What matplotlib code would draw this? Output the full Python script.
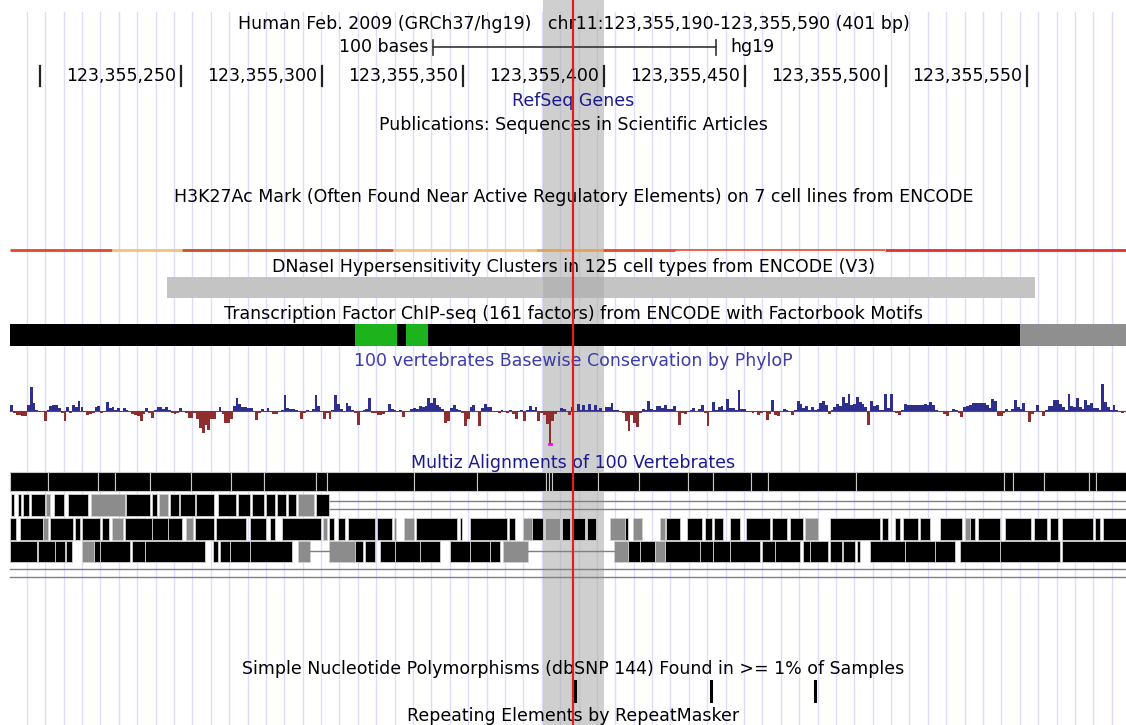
import numpy as np
import matplotlib.pyplot as plt
from matplotlib.patches import Rectangle

plt.rcParams['font.family'] = ['DejaVu Sans']

# positions are offsets from chr11:123,355,000
win_start, win_end = 190, 590
ruler_ticks = [200, 250, 300, 350, 400, 450, 500, 550]
highlight = (379.0, 400.5)
cursor_pos = 389.6

# H3K27Ac overlay line: segments and colours
h3k_start = [190, 226.2, 251, 325.8, 376.5, 400.3, 425.8, 500.3]
h3k_end = [226.2, 251, 325.8, 376.5, 400.3, 425.8, 500.3, 590]
h3k_color = ['#e8452c', '#f2c27a', '#d04a2a', '#f2c27a', '#e8a050', '#e8452c', '#e8452c', '#e03030']
h3k_width = [2.0, 2.0, 2.0, 2.0, 2.0, 2.0, 1.2, 2.0]

# DNaseI cluster
dnase = (245.7, 553.5)

# TF ChIP-seq cluster + factorbook motifs
tf_black = (190, 548.2)
tf_gray = (548.2, 590)
tf_motifs = [(312.3, 327.4), (330.4, 338.4)]

# PhyloP per base, starting at 190
phylop = [
    6, -2, -4, -4, -5, -5, 6, 24, 8, 1, -1, -1, -10, 1, 5, 6, 6, 3, -2, -10,
    4, -2, 6, 4, 10, 4, -1, -4, -3, -2, 4, 5, -2, -1, 9, 3, 4, 1, 3, -1,
    3, 1, -1, -3, -4, -5, -10, -3, 3, -2, -7, 1, 4, 4, 2, 4, 1, -2, -3, -2,
    3, -1, -2, -7, -7, -2, -8, -17, -22, -14, -19, -8, -8, -1, 4, -3, -12, -12, -8, 5,
    13, 7, 4, 4, 3, 3, -1, -9, -2, 2, -1, 3, -1, -3, -3, -1, 1, 16, 3, 2,
    2, 1, -1, -8, -2, 1, -1, 2, 16, 5, -1, -8, -2, -8, 1, 16, 7, 2, -1, 8,
    5, 1, -2, -14, -1, 1, 2, 13, -2, -2, -4, -4, -3, -1, 7, 2, 1, -1, 1, -6,
    -1, -1, 2, 3, 2, 5, 4, 5, 13, 8, 13, 6, 4, 2, -12, -10, 3, 6, 2, 1,
    -2, -15, -8, 4, 6, -1, -15, 3, 7, 4, 4, -1, -1, -2, 1, -1, -2, 1, -3, -8,
    -1, 1, -10, 1, 5, 1, 4, -10, -2, -4, -13, -36, -10, -3, -1, 3, 2, -1, -4, 4,
    -1, 7, 1, 6, 1, 7, 1, 6, 1, 3, -1, 4, 4, 8, 1, 1, -1, -2, -10, -20,
    -4, -12, -16, -2, 2, 1, 10, 2, 1, 5, 5, 3, 6, 2, 2, 5, -1, -14, -2, -3,
    -1, 1, 3, -1, 2, 6, -2, -15, -1, 9, 1, 4, 5, 1, 12, 3, 3, 1, 21, 2,
    2, -1, -1, -2, -1, -4, -2, -1, -9, -3, 11, -4, -5, -1, 2, 1, -1, -4, 1, 10,
    7, 3, 5, 1, 4, 1, 2, 8, 10, 6, -3, 1, 4, 7, 5, 14, 8, 17, 6, 7,
    14, 9, 7, 4, -14, 10, 5, 6, 1, 1, 17, 3, 17, -1, -2, -4, 1, 7, 6, 6,
    6, 6, 6, 6, 7, 6, 9, 6, 1, 0, -1, -3, -5, -1, 2, 1, -2, -6, 4, 5,
    6, 8, 8, 8, 8, 8, 6, 3, 12, 10, -5, -5, -2, 2, -1, 2, 11, 4, 2, 8,
    -1, -11, -3, -1, 6, -1, -5, 1, 5, 5, 11, 11, 7, 4, 1, 17, 5, 4, 13, 4,
    2, 11, 6, 8, 3, 3, 1, 27, 9, 4, 1, 6, 1, -1, -2, -1,
]
phylop_clip = -33

# Multiz: summary row block breaks
multiz_breaks = [190, 203.5, 221.2, 227.2, 239.6, 254.2, 268.4, 280.1, 298.5, 302.4,
                 333.3, 355.6, 380.1, 381.1, 382.2, 398.5, 413.0, 430.4, 439.3, 452.8,
                 458.8, 490.0, 542.5, 545.7, 556.7, 572.6, 575.1, 590]

# species rows: (start, end, shade)  k=black g=gray
row2 = [(190.4, 191.4, 'k'), (192.8, 193.9, 'k'), (194.6, 196.7, 'k'), (197.4, 202.4, 'k'),
        (202.8, 204.2, 'g'), (205.6, 209.1, 'k'), (210.6, 217.7, 'k'), (218.7, 230.8, 'g'),
        (231.1, 239.6, 'k'), (240.4, 242.1, 'k'), (242.8, 246.0, 'g'), (246.7, 249.9, 'k'),
        (250.3, 255.6, 'k'), (256.0, 262.3, 'k'), (263.8, 270.1, 'k'), (270.9, 275.1, 'k'),
        (275.8, 280.1, 'k'), (280.8, 284.0, 'k'), (284.7, 287.9, 'k'), (288.6, 291.4, 'k'),
        (292.1, 297.8, 'g'), (298.5, 303.1, 'k')]
row2_gap = (303.5, 590)

row3 = [(190.0, 192.1, 'k'), (193.5, 201.7, 'k'), (201.7, 203.5, 'g'), (204.2, 212.3, 'k'),
        (213.0, 214.8, 'k'), (215.5, 221.9, 'k'), (222.6, 225.1, 'k'), (226.2, 230.1, 'g'),
        (230.8, 240.4, 'k'), (240.4, 246.0, 'k'), (246.0, 251.0, 'k'), (252.4, 254.9, 'g'),
        (255.6, 262.3, 'k'), (263.0, 273.7, 'k'), (275.1, 280.8, 'k'), (282.2, 284.0, 'k'),
        (286.5, 300.3, 'k'), (301.0, 302.4, 'g'), (303.1, 304.9, 'k'), (306.3, 308.8, 'k'),
        (309.9, 319.4, 'k'), (320.1, 325.5, 'k'), (326.2, 326.9, 'g'), (329.7, 333.3, 'g'),
        (334.0, 348.5, 'k'), (349.6, 350.3, 'k'), (353.1, 366.2, 'k'), (366.9, 369.1, 'k'),
        (371.9, 375.1, 'g'), (375.1, 379.0, 'k'), (379.7, 385.0, 'g'), (385.7, 388.6, 'k'),
        (389.3, 393.9, 'k'), (394.6, 397.8, 'k'), (402.8, 408.1, 'g'), (408.1, 409.1, 'k'),
        (410.9, 414.1, 'g'), (420.5, 422.3, 'g'), (422.6, 427.6, 'k'), (430.1, 435.4, 'k'),
        (436.5, 439.0, 'k'), (439.7, 442.8, 'k'), (445.3, 448.9, 'k'), (451.0, 459.5, 'k'),
        (460.2, 465.5, 'k'), (466.6, 471.2, 'k'), (471.9, 476.5, 'g'), (480.8, 498.5, 'k'),
        (499.2, 501.3, 'k'), (503.8, 505.6, 'k'), (506.7, 512.0, 'k'), (512.7, 516.2, 'k'),
        (519.8, 527.6, 'k'), (528.6, 530.4, 'g'), (530.4, 532.2, 'k'), (533.3, 541.0, 'k'),
        (542.8, 552.0, 'k'), (553.1, 557.7, 'k'), (558.8, 561.6, 'k'), (563.0, 574.0, 'k'),
        (574.7, 576.5, 'k'), (577.6, 590, 'k')]

row4 = [(190.0, 199.6, 'k'), (199.9, 206.0, 'k'), (206.0, 209.5, 'k'), (209.9, 212.0, 'k'),
        (215.5, 219.8, 'g'), (219.8, 221.9, 'k'), (221.9, 232.6, 'k'), (233.3, 237.9, 'k'),
        (237.9, 259.1, 'k'), (262.0, 263.8, 'k'), (264.5, 268.0, 'k'), (268.0, 275.1, 'k'),
        (275.1, 290.0, 'k'), (292.1, 296.4, 'g'), (303.1, 312.3, 'g'), (312.3, 315.2, 'k'),
        (315.9, 319.4, 'k'), (321.2, 326.5, 'k'), (326.5, 335.4, 'k'), (335.4, 342.5, 'k'),
        (346.0, 353.1, 'k'), (353.1, 360.2, 'k'), (360.2, 363.8, 'k'), (364.8, 373.7, 'g'),
        (404.2, 409.1, 'g'), (409.1, 413.4, 'k'), (413.4, 418.7, 'k'), (418.7, 422.3, 'g'),
        (422.3, 434.7, 'k'), (434.7, 439.3, 'k'), (439.3, 445.3, 'k'), (445.3, 455.9, 'k'),
        (456.7, 461.3, 'k'), (461.3, 470.1, 'k'), (471.2, 473.7, 'k'), (473.7, 480.1, 'k'),
        (480.8, 485.0, 'k'), (485.4, 489.6, 'k'), (490.3, 491.4, 'k'), (494.9, 507.4, 'k'),
        (507.4, 518.0, 'k'), (518.0, 525.1, 'k'), (526.9, 541.0, 'k'), (541.0, 562.3, 'k'),
        (563.0, 590, 'k')]
row4_gaps = [(296.4, 303.1), (373.7, 404.2)]

# dbSNP 144 common SNPs
snps = [390.5, 438.5, 475.5]

shade_color = {'k': '#000000', 'g': '#8c8c8c'}

fig = plt.figure(figsize=(11.26, 7.25), dpi=100)
ax = fig.add_axes([0, 0, 1, 1])
ax.set_xlim(190 - 10 / 2.82, 190 + 1116 / 2.82)
ax.set_ylim(725, 0)
ax.axis('off')

label_x = 389.8
fs = 12.5
navy = '#1a1a8c'

# light guide lines
for gx in np.arange(196.0, 590, 6.52):
    ax.plot([gx, gx], [12, 725], color='#dcdcff', lw=1.0, zorder=1)

# highlight + cursor
ax.axvspan(highlight[0], highlight[1], color='#a9a9a9', alpha=0.55, lw=0, zorder=2)
ax.axvline(cursor_pos, color='#e02020', lw=1.6, zorder=7)

# header
ax.text(label_x, 24, 'Human Feb. 2009 (GRCh37/hg19)   chr11:123,355,190-123,355,590 (401 bp)',
        ha='center', va='center', fontsize=fs, zorder=6)
ax.plot([340, 440.4], [47, 47], color='#333333', lw=1.2, zorder=6)
for bx in (340, 440.4):
    ax.plot([bx, bx], [40, 55], color='#333333', lw=1.2, zorder=6)
ax.text(338.3, 47, '100 bases', ha='right', va='center', fontsize=fs, zorder=6)
ax.text(445.3, 47, 'hg19', ha='left', va='center', fontsize=fs, zorder=6)

for t in ruler_ticks:
    ax.plot([t + 0.5, t + 0.5], [66, 86], color='#222222', lw=1.6, zorder=6)
    if t != 200:
        ax.text(t - 1.0, 76, f'123,355,{t}', ha='right', va='center', fontsize=fs, zorder=6)

ax.text(label_x, 101, 'RefSeq Genes', ha='center', va='center', fontsize=fs, color=navy, zorder=6)
ax.text(label_x, 125, 'Publications: Sequences in Scientific Articles',
        ha='center', va='center', fontsize=fs, zorder=6)
ax.text(label_x, 197, 'H3K27Ac Mark (Often Found Near Active Regulatory Elements) on 7 cell lines from ENCODE',
        ha='center', va='center', fontsize=fs, zorder=6)

for s, e, c, w in zip(h3k_start, h3k_end, h3k_color, h3k_width):
    ax.plot([s, e], [250, 250], color=c, lw=w, solid_capstyle='butt', zorder=3)

ax.text(label_x, 267, 'DNaseI Hypersensitivity Clusters in 125 cell types from ENCODE (V3)',
        ha='center', va='center', fontsize=fs, zorder=6)
ax.add_patch(Rectangle((dnase[0], 277), dnase[1] - dnase[0], 21, color='#c4c4c4', lw=0, zorder=1.5))

ax.text(label_x, 314, 'Transcription Factor ChIP-seq (161 factors) from ENCODE with Factorbook Motifs',
        ha='center', va='center', fontsize=fs, zorder=6)
ax.add_patch(Rectangle((tf_black[0], 324), tf_black[1] - tf_black[0], 22, color='black', lw=0, zorder=3))
ax.add_patch(Rectangle((tf_gray[0], 324), tf_gray[1] - tf_gray[0], 22, color='#8f8f8f', lw=0, zorder=3))
for s, e in tf_motifs:
    ax.add_patch(Rectangle((s, 324), e - s, 22, color='#1db31d', lw=0, zorder=3.5))

ax.text(label_x, 361, '100 vertebrates Basewise Conservation by PhyloP',
        ha='center', va='center', fontsize=fs, color='#3c3ca8', zorder=6)
base0 = 411
pos = np.arange(win_start, win_start + len(phylop))
vals = np.array(phylop, dtype=float)
ax.plot([win_start, win_end], [base0, base0], color='#8b3a3a', lw=0.8, zorder=3)
up = vals > 0
ax.bar(pos[up], -vals[up], bottom=base0, width=1.0, align='edge', color='#2e2e8e', lw=0, zorder=3)
dn = vals < 0
clipped = np.maximum(vals[dn], phylop_clip)
ax.bar(pos[dn], -clipped, bottom=base0, width=1.0, align='edge', color='#8e2e2e', lw=0, zorder=3)
for p, v in zip(pos, vals):
    if v < phylop_clip:
        ax.plot([p, p + 1], [base0 - phylop_clip, base0 - phylop_clip], color='#ff00ff', lw=2, zorder=4)

ax.text(label_x, 463, 'Multiz Alignments of 100 Vertebrates',
        ha='center', va='center', fontsize=fs, color=navy, zorder=6)
for s, e in zip(multiz_breaks[:-1], multiz_breaks[1:]):
    ax.add_patch(Rectangle((s, 472), e - s, 19, facecolor='black', edgecolor='#c8c8c8', lw=0.8, zorder=3))


def draw_row(blocks, y0, h):
    for s, e, sh in blocks:
        ax.add_patch(Rectangle((s, y0), e - s, h, facecolor=shade_color[sh],
                               edgecolor='#d0d0d0', lw=0.6, zorder=3))


draw_row(row2, 494, 22)
for yy in (501, 509):
    ax.plot(row2_gap, [yy, yy], color='#808080', lw=1.0, zorder=3)
draw_row(row3, 518, 22)
draw_row(row4, 541, 21)
for s, e in row4_gaps:
    ax.plot([s, e], [551, 551], color='#808080', lw=1.0, zorder=3)
for yy in (569, 577):
    ax.plot([win_start, win_end], [yy, yy], color='#808080', lw=1.0, zorder=3)

ax.text(label_x, 669, 'Simple Nucleotide Polymorphisms (dbSNP 144) Found in >= 1% of Samples',
        ha='center', va='center', fontsize=fs, zorder=6)
for s in snps:
    ax.plot([s, s], [681, 701], color='black', lw=2.2, zorder=3)
ax.text(label_x, 716, 'Repeating Elements by RepeatMasker',
        ha='center', va='center', fontsize=fs, zorder=6)

fig.savefig('out.png', dpi=100)
